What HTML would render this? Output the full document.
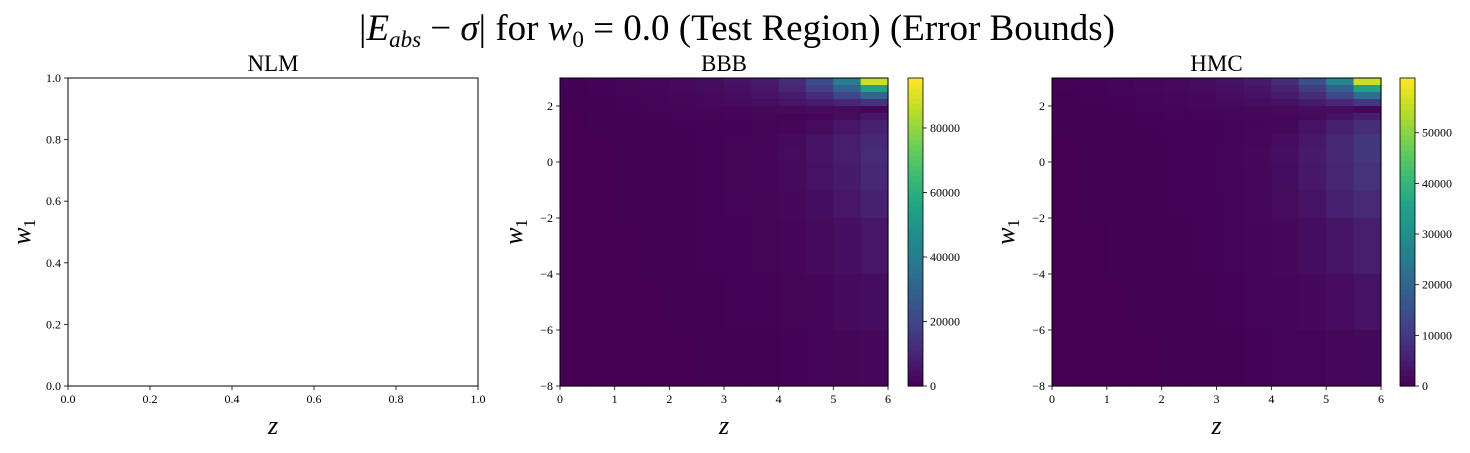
<!DOCTYPE html>
<html><head><meta charset="utf-8">
<style>
html,body{margin:0;padding:0;background:#fff;}
svg text{font-family:"Liberation Serif","DejaVu Serif",serif;fill:#000;}
</style></head>
<body>
<svg id="fig" width="1470" height="448" viewBox="0 0 1470 448" xmlns="http://www.w3.org/2000/svg">
<text x="737" y="40" text-anchor="middle" font-size="37">|<tspan font-style="italic">E</tspan><tspan font-style="italic" font-size="23" dy="7">abs</tspan><tspan dy="-7"> − </tspan><tspan font-style="italic">σ</tspan>| for <tspan font-style="italic">w</tspan><tspan font-size="23" dy="7">0</tspan><tspan dy="-7"> = 0.0 (Test Region) (Error Bounds)</tspan></text>
<g id="root"></g>
</svg>
<script>
// ---- data ----
const nlmXTicks = [0.0,0.2,0.4,0.6,0.8,1.0];
const nlmYTicks = [0.0,0.2,0.4,0.6,0.8,1.0];
const zTicks = [0,1,2,3,4,5,6];
const wTicks = [2,0,-2,-4,-6,-8];
const zEdges = [0,0.5,1,1.5,2,2.5,3,3.5,4,4.5,5,5.5,6];
const wEdges = [3,2.75,2.5,2.25,2,1.75,1.5,1,0.5,0,-1,-2,-4,-6,-8];
// values in thousands, rows top -> bottom
const bbbValues = [
[0.5,0.8,1.2,1.8,2.5,3.5,5,7,12,22,40,88],
[0.4,0.6,1,1.5,2,3,4,6,10,18,30,55],
[0.3,0.5,0.8,1.2,1.7,2.5,3.5,5,7,12,20,32],
[0.2,0.4,0.6,1,1.4,2,2.5,3.5,5,7,10,14],
[0.2,0.3,0.5,0.8,1,1.2,1.5,2,2.5,3,3,1.5],
[0.1,0.2,0.4,0.6,0.8,1,1.2,1.2,1,1.5,3,6],
[0.1,0.2,0.3,0.4,0.5,0.6,0.7,1,1.5,3,6,9],
[0.1,0.1,0.2,0.3,0.4,0.5,0.8,1.2,2.5,5,8,11],
[0,0.1,0.2,0.3,0.4,0.6,1,1.5,3,5,8,12],
[0,0.1,0.2,0.3,0.4,0.6,1,1.5,2.5,4.5,7,11],
[0,0.1,0.2,0.3,0.4,0.6,0.9,1.3,2,3.5,6,9],
[0,0.1,0.1,0.2,0.3,0.5,0.7,1,1.5,2.5,4,6],
[0,0,0.1,0.1,0.2,0.3,0.5,0.7,1,1.5,2.5,3.5],
[0,0,0,0.1,0.1,0.2,0.3,0.4,0.6,0.9,1.3,2]
];
const hmcValues = [
[0.3,0.5,0.8,1.2,1.6,2.2,3,4.5,8,15,28,56],
[0.3,0.4,0.6,1,1.3,1.8,2.5,3.5,6,11,19,35],
[0.2,0.3,0.5,0.8,1.1,1.5,2,3,4.5,8,13,22],
[0.2,0.3,0.4,0.6,0.9,1.2,1.6,2.2,3,4.5,7,10],
[0.1,0.2,0.3,0.5,0.7,0.8,1,1.3,1.6,2,2,1],
[0.1,0.1,0.2,0.4,0.5,0.6,0.8,0.8,0.8,1.5,3,5],
[0.1,0.1,0.2,0.3,0.3,0.4,0.5,0.8,1.5,3,5.5,8],
[0,0.1,0.1,0.2,0.3,0.4,0.6,1,2,4,7,10],
[0,0.1,0.1,0.2,0.3,0.4,0.7,1.2,2.5,4.5,7,10],
[0,0.1,0.1,0.2,0.3,0.4,0.7,1.1,2.2,4,6.5,9],
[0,0.1,0.1,0.2,0.3,0.4,0.6,1,1.8,3.2,5.5,7.5],
[0,0,0.1,0.1,0.2,0.3,0.5,0.8,1.3,2.2,3.5,5],
[0,0,0,0.1,0.1,0.2,0.3,0.5,0.8,1.2,2,3],
[0,0,0,0,0.1,0.1,0.2,0.3,0.5,0.7,1,1.5]
];
const bbbCbTicks = [0,20000,40000,60000,80000];
const hmcCbTicks = [0,10000,20000,30000,40000,50000];
const bbbMax = 95500;
const hmcMax = 60800;

const NS = "http://www.w3.org/2000/svg";
const root = document.getElementById('root');
function mk(tag, attrs, parent){const e=document.createElementNS(NS,tag);for(const k in attrs)e.setAttribute(k,attrs[k]);(parent||root).appendChild(e);return e;}
const VIR=[[68,1,84],[72,35,116],[64,67,135],[52,94,141],[41,120,142],[32,144,140],[34,167,132],[68,190,112],[121,209,81],[189,222,38],[253,231,37]];
function viridis(t){t=Math.max(0,Math.min(1,t));const p=t*10,i=Math.min(9,Math.floor(p)),f=p-i;const a=VIR[i],b=VIR[i+1];return `rgb(${Math.round(a[0]+(b[0]-a[0])*f)},${Math.round(a[1]+(b[1]-a[1])*f)},${Math.round(a[2]+(b[2]-a[2])*f)})`;}
function lin(d0,d1,r0,r1){return v=>r0+(v-d0)/(d1-d0)*(r1-r0);}
const yTop=78,yBot=386;

function axesFrame(name,x0,x1,xs,ys,xt,yt,xfmt,yfmt){
  const g=mk('g',{});
  
  
  xt.forEach(v=>{const x=xs(v);mk('line',{x1:x,x2:x,y1:yBot,y2:yBot+4,stroke:'#000','stroke-width':0.8},g);
    const t=mk('text',{x:x,y:yBot+17,'text-anchor':'middle','font-size':12},g);t.textContent=xfmt(v);
    });
  yt.forEach(v=>{const y=ys(v);mk('line',{x1:x0-4,x2:x0,y1:y,y2:y,stroke:'#000','stroke-width':0.8},g);
    const t=mk('text',{x:x0-7,y:y+4,'text-anchor':'end','font-size':12},g);t.textContent=yfmt(v);
    });
  return g;
}
function labels(name,title,x0,x1){
  const t=mk('text',{x:(x0+x1)/2,y:71,'text-anchor':'middle','font-size':23});t.textContent=title;
  
  const xl=mk('text',{x:(x0+x1)/2,y:434,'text-anchor':'middle','font-size':26,'font-style':'italic'});xl.textContent='z';
  
  const yx=x0-38;
  const yl=mk('text',{x:yx,y:232,'text-anchor':'middle','font-size':26,'font-style':'italic',transform:`rotate(-90 ${yx} 232)`});
  yl.innerHTML='w<tspan font-size="17" font-style="normal" dy="5">1</tspan>';
  
}

// NLM
(function(){
  const x0=68,x1=478,xs=lin(0,1,x0,x1),ys=lin(0,1,yBot,yTop);
  axesFrame('nlm',x0,x1,xs,ys,nlmXTicks,nlmYTicks,v=>v.toFixed(1),v=>v.toFixed(1));
  const r=mk('rect',{x:x0,y:yTop,width:x1-x0,height:yBot-yTop,fill:'none',stroke:'#000','stroke-width':1});
  
  labels('nlm','NLM',x0,x1);
})();

function heat(name,title,x0,x1,cbx,vals,vmax,cbTicks){
  const xs=lin(0,6,x0,x1),ys=lin(-8,3,yBot,yTop);
  const g=mk('g',{});
  
  
  vals.forEach((row,i)=>row.forEach((v,j)=>{
    const xa=xs(zEdges[j]),xb=xs(zEdges[j+1]),ya=ys(wEdges[i]),yb=ys(wEdges[i+1]);
    const c=mk('rect',{x:xa,y:ya,width:xb-xa+0.6,height:yb-ya+0.6,fill:viridis(v*1000/vmax)},g);
    
    
  }));
  axesFrame(name,x0,x1,xs,ys,zTicks,wTicks,v=>String(v),v=>v<0?'−'+(-v):String(v));
  const fr=mk('rect',{x:x0,y:yTop,width:x1-x0,height:yBot-yTop,fill:'none',stroke:'#000','stroke-width':1});
  
  labels(name,title,x0,x1);
  const cb=mk('g',{});
  
  
  const n=60;
  for(let k=0;k<n;k++){const y=yBot-(k+1)*(yBot-yTop)/n;mk('rect',{x:cbx,y:y,width:15,height:(yBot-yTop)/n+0.6,fill:viridis((k+0.5)/n)},cb);}
  mk('rect',{x:cbx,y:yTop,width:15,height:yBot-yTop,fill:'none',stroke:'#000','stroke-width':0.8},cb);
  const cs=lin(0,vmax,yBot,yTop);
  cbTicks.forEach(v=>{const y=cs(v);mk('line',{x1:cbx+15,x2:cbx+19,y1:y,y2:y,stroke:'#000','stroke-width':0.8},cb);
    const t=mk('text',{x:cbx+22,y:y+4,'font-size':12},cb);t.textContent=String(v);
    });
}
heat('bbb','BBB',560,888,908,bbbValues,bbbMax,bbbCbTicks);
heat('hmc','HMC',1052,1381,1400,hmcValues,hmcMax,hmcCbTicks);
</script>
</body></html>
